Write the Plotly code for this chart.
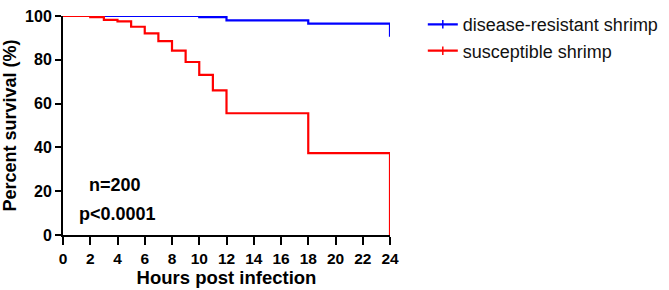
import numpy as np
import plotly.graph_objects as go

# ---- data ----
res_hours = [0, 10, 12, 18, 24]
res_surv = [100, 99.5, 98.0, 96.5, 90.5]
res_censor_hours = [2, 3, 4, 5, 6, 7, 8, 9, 10, 11]

sus_hours = [0, 2, 3, 4, 5, 6, 7, 8, 9, 10, 11, 12, 18, 24]
sus_surv = [100, 99.5, 98.2, 97.5, 95.1, 92.1, 88.5, 84.2, 79.0, 73.1, 66.0, 55.6, 37.4, 0]
sus_censor_hours = [1]

series_names = ["disease-resistant shrimp", "susceptible shrimp"]
series_colors = ["#0000FF", "#FF0000"]

x_ticks = list(range(0, 25, 2))
y_ticks = list(range(0, 101, 20))

annot_texts = ["n=200", "p<0.0001"]

# ---- layout constants ----
W, H = 669, 290
ML, MR, MT, MB = 63, 279, 8, 55
plot_h = H - MT - MB
tick_px = 6
tick_off = (tick_px / 2) / plot_h * 100  # half tick height in data units (upward ticks)


def step_value(hours, surv, t):
    idx = np.searchsorted(np.array(hours), t, side="right") - 1
    return np.array(surv)[idx]


fig = go.Figure()

datasets = [
    (res_hours, res_surv, res_censor_hours),
    (sus_hours, sus_surv, sus_censor_hours),
]

for (hrs, sv, cens), name, col in zip(datasets, series_names, series_colors):
    fig.add_trace(go.Scatter(
        x=hrs, y=sv, mode="lines", line=dict(color=col, width=2.2, shape="hv"),
        name=name, showlegend=False, legendgroup=name, cliponaxis=False,
        hoverinfo="skip"))
    cy = step_value(hrs, sv, cens) + tick_off
    fig.add_trace(go.Scatter(
        x=cens, y=cy, mode="markers",
        marker=dict(symbol="line-ns", size=tick_px, color=col,
                    line=dict(color=col, width=2)),
        showlegend=False, legendgroup=name, cliponaxis=False, hoverinfo="skip"))
    # legend entry
    fig.add_trace(go.Scatter(
        x=[None], y=[None], mode="lines+markers", name=name, legendgroup=name,
        line=dict(color=col, width=2.2),
        marker=dict(symbol="line-ns", size=6, color=col,
                    line=dict(color=col, width=1.5))))

bold = dict(family="Liberation Sans", color="black", weight="bold")

fig.add_annotation(x=1.75, y=22.8, xref="x", yref="y", text=annot_texts[0],
                   showarrow=False, xanchor="left", yanchor="middle",
                   font=dict(bold, size=18))
fig.add_annotation(x=1.0, y=9.6, xref="x", yref="y", text=annot_texts[1],
                   showarrow=False, xanchor="left", yanchor="middle",
                   font=dict(bold, size=18))

fig.update_layout(
    width=W, height=H,
    margin=dict(l=ML, r=MR, t=MT, b=MB),
    paper_bgcolor="white", plot_bgcolor="white",
    font=dict(family="Liberation Sans", color="black"),
    showlegend=True,
    legend=dict(x=0.632, y=0.979, xref="container", yref="container",
                xanchor="left", yanchor="top",
                font=dict(family="Liberation Sans", size=18, color="#111"),
                traceorder="grouped", tracegroupgap=0,
                bgcolor="rgba(0,0,0,0)"),
    xaxis=dict(range=[0, 24], tickvals=x_ticks, ticktext=[str(v) for v in x_ticks],
               showgrid=False, zeroline=False, showline=True, linecolor="black",
               linewidth=2, ticks="outside", ticklen=8, tickwidth=2, tickcolor="black",
               ticklabeloverflow="allow",
               tickfont=dict(bold, size=15.5),
               title=dict(text="Hours post infection", standoff=2,
                          font=dict(bold, size=18.5))),
    yaxis=dict(range=[0, 100], tickvals=y_ticks, ticktext=[str(v) for v in y_ticks],
               showgrid=False, zeroline=False, showline=True, linecolor="black",
               linewidth=2, ticks="outside", ticklen=6, tickwidth=2, tickcolor="black",
               ticklabeloverflow="allow",
               tickfont=dict(bold, size=16),
               title=dict(text="Percent survival (%)", standoff=4,
                          font=dict(bold, size=18))),
)

fig.write_html("out.html", config={"displayModeBar": False},
               post_script="document.body.style.margin='0px';")
